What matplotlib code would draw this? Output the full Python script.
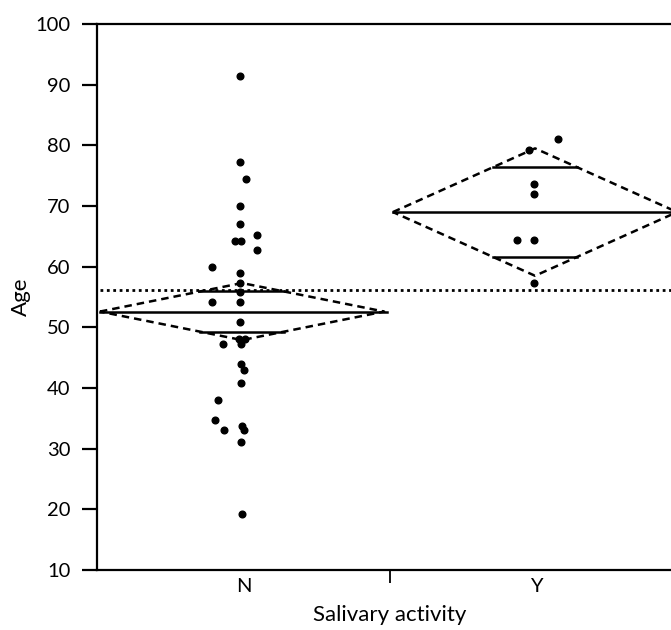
import matplotlib
matplotlib.use("Agg")
import matplotlib.pyplot as plt
import numpy as np

plt.rcParams['font.family'] = ['Lato', 'DejaVu Sans']

# ---- data ----
categories = ["N", "Y"]

n_age = [91.5, 77.2, 74.4, 70.0, 67.1, 64.3, 64.3, 65.3, 62.8, 59.9,
         58.9, 57.3, 55.8, 54.2, 54.2, 50.9, 47.3, 48.0, 48.0, 47.3,
         43.9, 42.9, 40.9, 38.1, 34.8, 33.0, 33.8, 33.0, 31.1, 19.2]
n_xpos = [0.488, 0.488, 0.508, 0.488, 0.488, 0.471, 0.490, 0.547, 0.547, 0.394,
          0.488, 0.488, 0.488, 0.394, 0.488, 0.488, 0.431, 0.484, 0.505, 0.493,
          0.491, 0.500, 0.491, 0.412, 0.404, 0.433, 0.496, 0.502, 0.491, 0.496]

y_age = [81.1, 79.2, 73.6, 72.0, 64.4, 64.4, 57.3]
y_xpos = [1.574, 1.474, 1.492, 1.492, 1.434, 1.492, 1.492]

group_means = [52.6, 69.0]
ci_half = [4.7, 10.5]
grand_mean = 56.1

yticks = [10, 20, 30, 40, 50, 60, 70, 80, 90, 100]

# ---- figure ----
W, H = 671, 630
fig = plt.figure(figsize=(W / 100, H / 100), dpi=100)
left_px, right_px, top_px, bot_px = 97, 683, 24, 570
ax = fig.add_axes([left_px / W, 1 - bot_px / H,
                   (right_px - left_px) / W, (bot_px - top_px) / H])
ax.set_xlim(0, 2)
ax.set_ylim(10, 100)

# points
ax.plot(n_xpos, n_age, 'o', color='black', ms=4.8, zorder=5)
ax.plot(y_xpos, y_age, 'o', color='black', ms=4.8, zorder=5)

# grand mean
ax.plot([0.01, 2.0], [grand_mean, grand_mean], color='black', lw=2.0,
        linestyle=(0, (1, 1.3)), zorder=3)

# means diamonds
for g, (m, h) in enumerate(zip(group_means, ci_half)):
    x0, x1 = g + 0.01, g + 0.98
    xc = (x0 + x1) / 2
    halfw = (x1 - x0) / 2
    # diamond
    ax.plot([x0, xc, x1, xc, x0], [m, m + h, m, m - h, m], color='black',
            lw=1.8, linestyle=(0, (3, 2)), zorder=4)
    # mean line
    ax.plot([x0, g + 0.99], [m, m], color='black', lw=1.8, zorder=4)
    # overlap marks
    o = h / np.sqrt(2)
    frac = 1 - 1 / np.sqrt(2)
    for yy in (m + o, m - o):
        ax.plot([xc - halfw * frac, xc + halfw * frac], [yy, yy],
                color='black', lw=1.8, zorder=4)

# axes styling
for s in ['left', 'bottom', 'top']:
    ax.spines[s].set_linewidth(1.6)
ax.spines['right'].set_visible(False)

ax.set_yticks(yticks)
ax.tick_params(axis='y', direction='out', length=11, width=1.6,
               labelsize=14.5, pad=8)

ax.set_xticks([1.0])
ax.set_xticklabels([''])
ax.tick_params(axis='x', which='major', direction='out', length=9, width=1.3)
ax.set_xticks([0.5, 1.5], minor=True)
ax.set_xticklabels(categories, minor=True)
ax.tick_params(axis='x', which='minor', length=0, labelsize=14.5, pad=6)

ax.set_xlabel("Salivary activity", fontsize=16, labelpad=7)
ax.set_ylabel("Age", fontsize=16, labelpad=3)

fig.savefig("out.png", dpi=100)
